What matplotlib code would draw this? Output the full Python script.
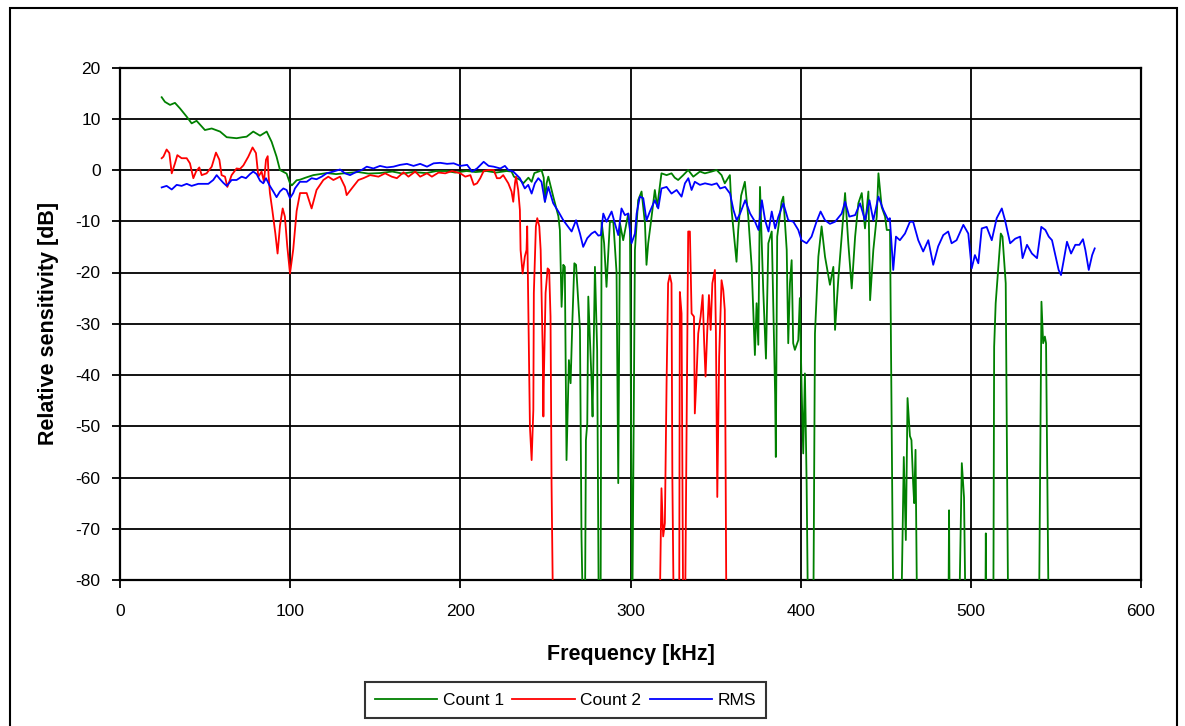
import numpy as np
import matplotlib
matplotlib.use("Agg")
import matplotlib.pyplot as plt
from matplotlib.patches import Rectangle

plt.rcParams['font.family'] = ['Liberation Sans', 'DejaVu Sans']
plt.rcParams['axes.unicode_minus'] = False

# ---------------- data ----------------
LOW = -90  # values below the visible range (clipped at -80)

count1_f = [24.5, 26.4, 29.4, 32.3, 35.3, 39.2, 42.1, 45.0, 49.9, 53.9, 58.8, 62.7, 68.5, 72.0, 74.4,
            78.3, 82.3, 86.2, 89.1, 92.0, 94.0, 97.9, 99.9, 101.0, 103.8, 105.7, 109.0, 113.6, 121.4,
            127.0, 133.0, 140.0, 146.0, 152.7, 160.0, 166.0, 172.0, 180.0, 186.0, 191.9, 197.0, 203.7,
            209.0, 215.4, 221.0, 227.2, 230.1, 231.5, 235.0, 237.0, 240.0, 241.9, 243.5, 246.8, 247.7,
            249.0, 249.7, 250.7, 251.7, 254.6, 257.6, 258.5, 259.5, 260.5, 261.4, 262.4, 263.8, 264.8,
            265.8, 267.0, 268.0, 270.3, 271.2, 272.2, 273.2, 273.8, 274.6, 275.2, 277.1, 277.7, 279.1,
            280.4, 281.4, 282.4, 283.0, 284.5, 285.9, 287.9, 289.9, 291.8, 292.8, 293.8, 295.7, 298.7,
            299.7, 301.0, 302.6, 304.5, 306.5, 308.5, 309.4, 310.4, 312.4, 314.3, 315.7, 318.2, 321.2,
            324.1, 326.0, 328.0, 331.0, 333.9, 336.9, 340.8, 343.7, 347.7, 350.6, 353.5, 355.4, 358.4,
            359.4, 362.3, 363.3, 365.0, 367.2, 369.2, 371.2, 372.1, 373.1, 374.1, 375.1, 376.1, 378.0,
            379.6, 381.0, 383.0, 385.0, 385.4, 386.2, 388.8, 389.8, 391.8, 392.7, 393.7, 394.7, 395.6,
            396.6, 398.6, 399.5, 400.5, 401.5, 402.5, 403.5, 404.4, 407.4, 408.4, 410.4, 412.3, 414.3,
            417.2, 419.2, 420.2, 422.1, 424.1, 426.1, 428.0, 430.0, 432.0, 433.9, 435.9, 437.8, 439.8,
            440.8, 442.7, 444.7, 445.7, 447.6, 449.6, 450.6, 452.5, 454.5, 459.0, 460.6, 461.8, 462.8,
            464.2, 465.1, 466.1, 466.7, 467.5, 468.5, 486.8, 487.2, 487.6, 493.0, 494.7, 496.0, 497.0,
            508.5, 508.8, 509.2, 513.2, 513.7, 514.6, 516.6, 517.6, 518.6, 520.5, 522.0, 540.0, 541.5,
            542.5, 543.5, 544.2, 545.8]
count1_db = [14.2, 13.3, 12.7, 13.1, 12.0, 10.4, 9.1, 9.6, 7.8, 8.1, 7.5, 6.4, 6.2, 6.4, 6.5,
             7.5, 6.7, 7.5, 5.5, 2.6, 0.0, -0.7, -2.6, -3.0, -2.0, -1.9, -1.5, -1.0, -0.6,
             -0.8, -0.6, -0.4, -0.7, -0.6, -0.3, -0.7, -0.4, -0.6, -0.2, -0.2, -0.5, -0.2,
             -0.4, -0.2, -0.5, -0.2, -0.3, -1.3, -1.9, -2.6, -1.5, -2.3, -0.6, -0.2, 0.0,
             -1.5, -6.2, -2.6, -1.3, -5.2, -9.0, -11.7, -26.7, -18.5, -18.9, -56.6, -37.1, -41.6,
             -29.9, -18.2, -18.5, -31.2, -71.5, LOW, LOW, -52.7, -49.4, -24.7, -41.0, -48.1, -18.9,
             -35.1, LOW, LOW, -10.1, -14.3, -22.8, -10.1, -10.1, -20.0, -61.1, -10.4, -13.7, -8.5,
             -12.0, LOW, -15.6, -5.9, -4.2, -10.4, -18.5, -14.3, -9.1, -3.9, -7.2, -0.65, -1.0,
             -0.65, -1.5, -1.95, -1.0, 0.0, -1.3, -0.3, -0.65, -0.3, 0.0, -1.0, -2.6, -1.0,
             -7.8, -17.9, -11.7, -5.0, -2.3, -9.1, -18.9, -27.3, -36.1, -26.0, -34.1, -3.3, -23.4,
             -36.8, -14.3, -12.0, -43.9, -56.0, -13.0, -6.2, -5.2, -15.6, -33.8, -22.1, -17.6, -33.8,
             -35.1, -33.2, -25.0, -41.6, -55.3, -39.7, -61.1, LOW, LOW, -31.9, -16.9, -11.0, -16.9,
             -22.4, -18.9, -31.2, -21.4, -13.0, -4.5, -14.3, -23.1, -13.0, -6.5, -4.5, -11.4, -4.2,
             -25.4, -15.6, -9.1, -0.65, -7.2, -9.1, -11.7, -11.7, LOW, LOW, -56.0, -72.2, -44.5,
             -51.9, -52.7, -61.1, -65.0, -54.6, LOW, LOW, -66.4, LOW, LOW, -57.2, -63.9, LOW,
             LOW, -70.9, LOW, LOW, -34.5, -26.0, -16.9, -12.4, -13.0, -22.1, LOW, LOW, -25.7,
             -33.8, -32.5, -33.8, LOW]

count2_f = [24.5, 25.5, 27.4, 29.0, 30.4, 32.3, 33.7, 36.2, 39.2, 41.1, 43.1, 44.7, 46.6, 48.0, 50.9,
            53.9, 56.4, 58.4, 59.7, 61.7, 63.1, 65.6, 68.5, 70.5, 72.5, 75.4, 77.9, 79.9, 81.3, 83.2,
            84.6, 85.8, 86.8, 87.3, 88.1, 89.5, 91.3, 92.6, 94.0, 95.6, 96.9, 98.3, 99.9, 101.8, 103.8,
            105.8, 109.7, 112.6, 115.5, 119.5, 122.4, 125.4, 129.3, 132.2, 133.2, 136.2, 140.1, 143.0,
            147.0, 151.9, 155.8, 159.7, 162.7, 166.6, 169.5, 173.5, 176.4, 180.4, 183.3, 187.2, 191.1,
            195.1, 200.0, 202.9, 205.9, 207.9, 209.8, 211.7, 213.7, 216.6, 219.6, 221.5, 223.3, 225.2,
            228.2, 230.1, 231.1, 232.1, 232.7, 234.0, 235.0, 235.4, 236.6, 237.9, 238.9, 239.3, 239.9,
            240.9, 241.9, 242.9, 243.2, 244.4, 245.2, 246.4, 247.2, 248.4, 248.8, 249.1, 250.1, 251.3,
            252.2, 253.0, 253.6, 254.6, 317.0, 318.2, 319.2, 320.2, 321.2, 322.1, 323.1, 324.1, 324.6,
            325.5, 328.6, 329.0, 330.0, 331.0, 332.0, 333.0, 333.9, 334.9, 335.9, 337.3, 337.8, 338.8,
            339.8, 341.2, 342.4, 343.3, 344.1, 345.1, 346.1, 347.1, 348.1, 349.6, 350.2, 351.0, 352.1,
            353.5, 354.5, 355.4, 356.4]
count2_db = [2.3, 2.6, 4.0, 3.3, -0.65, 1.3, 2.9, 2.3, 2.3, 1.3, -1.6, -0.3, 0.5, -1.0, -0.65,
             0.65, 3.4, 2.0, -1.0, -1.3, -3.3, -1.0, 0.3, 0.2, 0.9, 2.6, 4.4, 3.3, -1.3, -0.3,
             -2.3, 2.0, 2.7, -1.0, -4.5, -7.8, -12.4, -16.3, -10.9, -7.5, -9.1, -14.9, -20.2, -15.5, -8.0,
             -4.5, -4.5, -7.5, -3.9, -1.95, -1.3, -1.95, -1.3, -3.3, -4.9, -3.6, -1.95, -1.6,
             -1.0, -1.3, -0.65, -1.3, -1.6, -0.45, -1.3, -0.3, -1.3, -0.65, -1.3, -0.5, -0.65,
             -0.2, -0.65, -1.3, -1.0, -2.9, -2.6, -1.6, -0.2, 0.0, 0.0, -1.6, -1.6, -1.0,
             -2.6, -4.2, -6.2, -2.6, -1.3, -3.9, -7.8, -15.6, -20.2, -16.9, -15.6, -11.0, -25.4,
             -50.1, -56.6, -46.8, -24.0, -11.0, -9.4, -11.0, -15.6, -35.1, -48.1, -40.3, -24.0, -19.2,
             -19.5, -28.6, -61.1, LOW, LOW, -62.1, -71.5, -68.9, -41.6, -22.1, -20.5, -22.1, -60.0,
             LOW, LOW, -23.8, -28.0, LOW, LOW, -48.1, -12.0, -12.0, -28.0, -28.6, -47.5, -40.3,
             -31.9, -28.6, -24.4, -33.8, -40.3, -31.5, -24.4, -31.2, -22.1, -19.5, -31.9, -63.8, -36.4,
             -21.5, -23.4, -27.3, LOW]

rms_f = [24.5, 27.4, 30.4, 33.3, 36.2, 39.2, 42.1, 46.0, 49.0, 51.9, 54.8, 56.8, 58.8, 60.7, 62.7,
         65.6, 68.5, 71.5, 74.0, 76.4, 78.3, 80.3, 82.3, 84.2, 85.8, 87.7, 90.1, 92.0, 94.0, 96.0,
         97.9, 99.9, 101.8, 102.8, 105.7, 109.7, 112.6, 115.5, 118.5, 121.4, 125.4, 129.3, 132.2,
         135.2, 138.1, 142.0, 145.0, 148.9, 152.8, 156.8, 160.7, 164.6, 168.6, 172.5, 176.4, 180.4,
         184.3, 188.2, 192.2, 196.1, 200.0, 204.0, 206.9, 209.8, 213.7, 216.6, 219.6, 223.5, 226.2,
         228.2, 231.1, 235.0, 237.9, 239.9, 241.9, 243.8, 245.8, 247.7, 249.7, 251.7, 254.6, 257.6,
         260.5, 263.4, 265.4, 268.0, 270.3, 272.2, 274.6, 277.1, 279.1, 281.1, 282.6, 284.0, 285.9,
         288.9, 290.8, 292.8, 294.7, 296.7, 298.7, 300.6, 302.6, 303.6, 305.5, 307.5, 309.4, 311.4,
         314.3, 316.3, 318.2, 321.2, 324.1, 327.1, 330.0, 332.0, 334.0, 335.9, 337.8, 340.8, 343.8,
         347.7, 350.7, 352.7, 355.6, 358.5, 360.5, 362.4, 364.4, 367.4, 370.3, 373.2, 375.2, 377.2,
         379.1, 381.1, 383.0, 385.0, 386.9, 389.8, 392.7, 395.7, 398.6, 400.5, 403.5, 406.4, 409.3,
         411.7, 414.3, 417.2, 420.2, 424.1, 426.1, 428.6, 432.0, 434.9, 437.8, 440.4, 442.7, 445.7,
         448.6, 451.5, 452.4, 454.4, 456.0, 458.3, 461.3, 464.2, 466.1, 469.1, 472.0, 475.0, 477.9,
         480.8, 483.8, 486.7, 488.7, 491.6, 495.6, 498.5, 500.5, 502.4, 504.4, 506.4, 509.3, 512.3,
         515.2, 518.2, 520.1, 523.1, 526.1, 529.0, 530.4, 533.0, 535.9, 538.9, 541.4, 543.8, 545.8,
         547.7, 551.6, 553.0, 554.6, 556.5, 558.9, 561.4, 563.8, 565.9, 567.3, 569.3, 571.3, 572.8]
rms_db = [-3.4, -3.1, -3.8, -2.9, -3.1, -2.7, -3.1, -2.7, -2.7, -2.7, -1.95, -1.0, -1.8, -2.5, -3.1,
          -1.95, -1.95, -1.3, -1.6, -0.8, -0.3, -0.8, -2.1, -2.6, -1.6, -2.9, -4.2, -5.3, -4.2, -3.6,
          -3.9, -5.5, -4.5, -3.6, -2.3, -2.3, -1.6, -1.8, -1.3, -0.65, -0.3, 0.1, -0.65,
          -1.0, -0.5, 0.0, 0.65, 0.3, 0.8, 0.5, 0.65, 1.0, 1.2, 0.8, 1.2, 0.65,
          1.3, 1.4, 1.2, 1.3, 0.8, 1.0, -0.3, 0.3, 1.6, 0.8, 0.65, 0.3, 0.8,
          0.0, -0.3, -1.6, -3.6, -2.9, -4.6, -2.6, -1.6, -2.3, -6.2, -3.3, -6.5, -8.1,
          -9.8, -11.1, -12.0, -9.8, -12.4, -15.0, -13.3, -12.4, -12.0, -12.8, -12.7, -8.5, -10.1,
          -8.1, -10.4, -12.7, -7.5, -8.8, -8.5, -14.3, -12.4, -8.5, -5.2, -5.5, -9.8, -8.1,
          -5.9, -7.5, -3.6, -3.3, -4.6, -3.9, -5.2, -2.6, -1.6, -3.9, -2.3, -2.9, -2.6,
          -2.9, -2.6, -3.6, -3.3, -4.6, -7.8, -9.8, -8.5, -5.9, -8.5, -10.1, -11.7, -5.9,
          -9.8, -12.0, -8.1, -11.4, -9.1, -6.5, -9.8, -10.1, -11.7, -13.7, -14.3, -13.0, -10.1,
          -8.1, -9.8, -10.5, -10.1, -8.5, -6.2, -9.1, -8.8, -6.5, -9.8, -5.9, -9.8, -5.2,
          -7.8, -9.8, -9.4, -19.5, -13.0, -13.7, -12.4, -10.1, -10.1, -13.7, -15.9, -13.7, -18.5,
          -14.9, -12.7, -12.0, -14.3, -13.7, -10.7, -12.4, -19.2, -16.6, -18.2, -11.4, -11.1, -13.7,
          -9.4, -7.5, -9.8, -14.3, -13.4, -13.0, -17.2, -14.6, -16.3, -17.2, -11.1, -11.7, -13.0,
          -13.7, -19.5, -20.5, -17.6, -14.0, -16.3, -14.6, -14.6, -13.5, -15.6, -19.5, -16.6, -15.3]

series_names = ["Count 1", "Count 2", "RMS"]
series_colors = ["#008000", "#FF0000", "#0000FF"]

x_ticks = [0, 100, 200, 300, 400, 500, 600]
y_ticks = [20, 10, 0, -10, -20, -30, -40, -50, -60, -70, -80]

# ---------------- figure ----------------
W, H = 1185, 726
fig = plt.figure(figsize=(W / 100, H / 100), dpi=100)
ax = fig.add_axes([120 / W, 1 - 580 / H, (1141 - 120) / W, (580 - 67.5) / H])

for f, v, name, col in zip([count1_f, count2_f, rms_f], [count1_db, count2_db, rms_db],
                           series_names, series_colors):
    ax.plot(f, v, color=col, lw=1.3, label=name, zorder=3)

ax.set_xlim(0, 600)
ax.set_ylim(-80, 20)
ax.set_xticks(x_ticks)
ax.set_yticks(y_ticks)
ax.grid(True, color="black", lw=1.3, zorder=1)
for s in ax.spines.values():
    s.set_linewidth(1.6)
    s.set_color("black")
ax.tick_params(direction="out", length=6, width=1.3, labelsize=12.5, colors="black")
ax.tick_params(axis="x", pad=11)
ax.tick_params(axis="y", pad=8)

ax.set_xlabel("Frequency [kHz]", fontsize=15.5, fontweight="bold", labelpad=18)
ax.set_ylabel("Relative sensitivity [dB]", fontsize=15.5, fontweight="bold", labelpad=12)

leg = fig.legend(loc="center", bbox_to_anchor=(565.5 / W, 1 - 700 / H), ncol=3,
                 fontsize=12.5, frameon=True, fancybox=False, edgecolor="black",
                 handlelength=3.6, handletextpad=0.3, columnspacing=0.5, borderpad=0.6)
leg.get_frame().set_linewidth(1.5)

# chart-area outer border
fig.add_artist(Rectangle((10 / W, -0.05), (1177 - 10) / W, 1 - 8 / H + 0.05,
                         transform=fig.transFigure, fill=False, edgecolor="black", lw=1.5))

fig.savefig("out.png", dpi=100)
